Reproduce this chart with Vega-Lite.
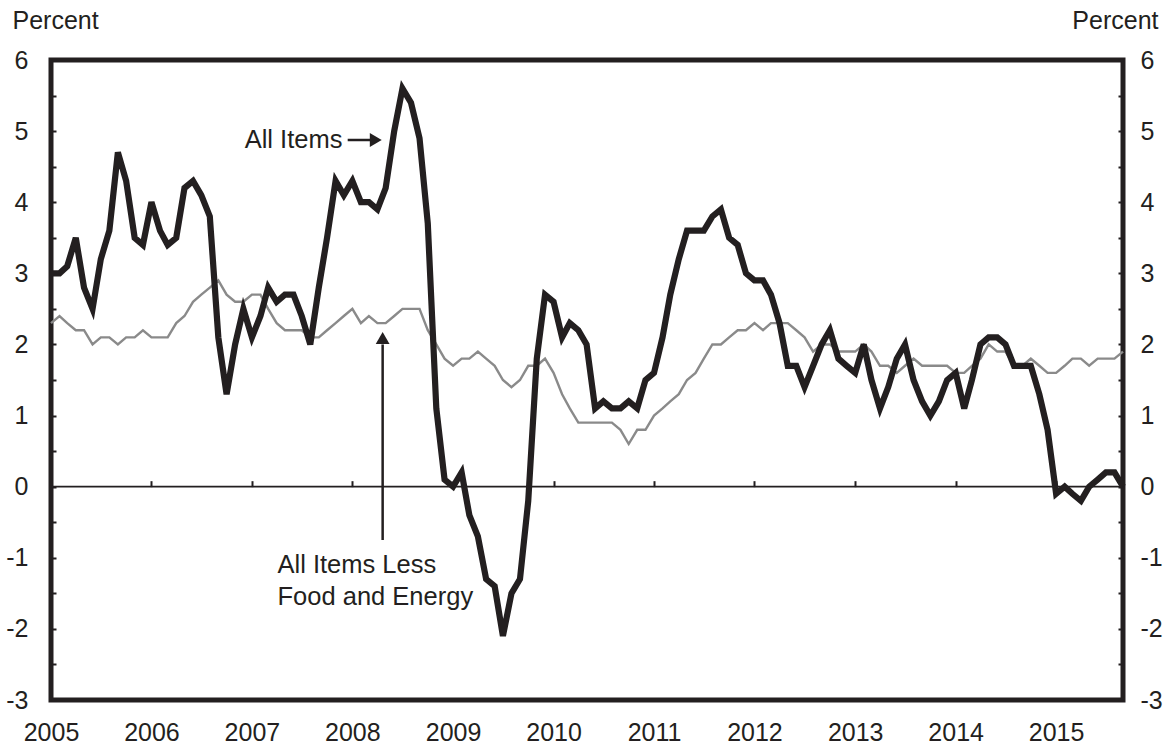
{
  "$schema": "https://vega.github.io/schema/vega-lite/v6.json",
  "width": 1072,
  "height": 640,
  "autosize": {"type": "none"},
  "padding": {"left": 51, "top": 60, "right": 49, "bottom": 48},
  "config": {
    "view": {"stroke": "#231f20", "strokeWidth": 5},
    "font": "Liberation Sans",
    "axis": {
      "labelFont": "Liberation Sans", "labelFontSize": 25, "labelColor": "#231f20",
      "titleFont": "Liberation Sans", "titleFontSize": 25, "titleFontWeight": "normal", "titleColor": "#231f20",
      "grid": false, "domain": false, "tickColor": "#231f20", "tickWidth": 2, "labelFlush": false, "labelOverlap": false
    }
  },
  "datasets": {
    "cpi": [
      {"d":"2005-01","a":3.0,"c":2.3},{"d":"2005-02","a":3.0,"c":2.4},{"d":"2005-03","a":3.1,"c":2.3},{"d":"2005-04","a":3.5,"c":2.2},{"d":"2005-05","a":2.8,"c":2.2},{"d":"2005-06","a":2.5,"c":2.0},{"d":"2005-07","a":3.2,"c":2.1},{"d":"2005-08","a":3.6,"c":2.1},{"d":"2005-09","a":4.7,"c":2.0},{"d":"2005-10","a":4.3,"c":2.1},{"d":"2005-11","a":3.5,"c":2.1},{"d":"2005-12","a":3.4,"c":2.2},
      {"d":"2006-01","a":4.0,"c":2.1},{"d":"2006-02","a":3.6,"c":2.1},{"d":"2006-03","a":3.4,"c":2.1},{"d":"2006-04","a":3.5,"c":2.3},{"d":"2006-05","a":4.2,"c":2.4},{"d":"2006-06","a":4.3,"c":2.6},{"d":"2006-07","a":4.1,"c":2.7},{"d":"2006-08","a":3.8,"c":2.8},{"d":"2006-09","a":2.1,"c":2.9},{"d":"2006-10","a":1.3,"c":2.7},{"d":"2006-11","a":2.0,"c":2.6},{"d":"2006-12","a":2.5,"c":2.6},
      {"d":"2007-01","a":2.1,"c":2.7},{"d":"2007-02","a":2.4,"c":2.7},{"d":"2007-03","a":2.8,"c":2.5},{"d":"2007-04","a":2.6,"c":2.3},{"d":"2007-05","a":2.7,"c":2.2},{"d":"2007-06","a":2.7,"c":2.2},{"d":"2007-07","a":2.4,"c":2.2},{"d":"2007-08","a":2.0,"c":2.1},{"d":"2007-09","a":2.8,"c":2.1},{"d":"2007-10","a":3.5,"c":2.2},{"d":"2007-11","a":4.3,"c":2.3},{"d":"2007-12","a":4.1,"c":2.4},
      {"d":"2008-01","a":4.3,"c":2.5},{"d":"2008-02","a":4.0,"c":2.3},{"d":"2008-03","a":4.0,"c":2.4},{"d":"2008-04","a":3.9,"c":2.3},{"d":"2008-05","a":4.2,"c":2.3},{"d":"2008-06","a":5.0,"c":2.4},{"d":"2008-07","a":5.6,"c":2.5},{"d":"2008-08","a":5.4,"c":2.5},{"d":"2008-09","a":4.9,"c":2.5},{"d":"2008-10","a":3.7,"c":2.2},{"d":"2008-11","a":1.1,"c":2.0},{"d":"2008-12","a":0.1,"c":1.8},
      {"d":"2009-01","a":0.0,"c":1.7},{"d":"2009-02","a":0.2,"c":1.8},{"d":"2009-03","a":-0.4,"c":1.8},{"d":"2009-04","a":-0.7,"c":1.9},{"d":"2009-05","a":-1.3,"c":1.8},{"d":"2009-06","a":-1.4,"c":1.7},{"d":"2009-07","a":-2.1,"c":1.5},{"d":"2009-08","a":-1.5,"c":1.4},{"d":"2009-09","a":-1.3,"c":1.5},{"d":"2009-10","a":-0.2,"c":1.7},{"d":"2009-11","a":1.8,"c":1.7},{"d":"2009-12","a":2.7,"c":1.8},
      {"d":"2010-01","a":2.6,"c":1.6},{"d":"2010-02","a":2.1,"c":1.3},{"d":"2010-03","a":2.3,"c":1.1},{"d":"2010-04","a":2.2,"c":0.9},{"d":"2010-05","a":2.0,"c":0.9},{"d":"2010-06","a":1.1,"c":0.9},{"d":"2010-07","a":1.2,"c":0.9},{"d":"2010-08","a":1.1,"c":0.9},{"d":"2010-09","a":1.1,"c":0.8},{"d":"2010-10","a":1.2,"c":0.6},{"d":"2010-11","a":1.1,"c":0.8},{"d":"2010-12","a":1.5,"c":0.8},
      {"d":"2011-01","a":1.6,"c":1.0},{"d":"2011-02","a":2.1,"c":1.1},{"d":"2011-03","a":2.7,"c":1.2},{"d":"2011-04","a":3.2,"c":1.3},{"d":"2011-05","a":3.6,"c":1.5},{"d":"2011-06","a":3.6,"c":1.6},{"d":"2011-07","a":3.6,"c":1.8},{"d":"2011-08","a":3.8,"c":2.0},{"d":"2011-09","a":3.9,"c":2.0},{"d":"2011-10","a":3.5,"c":2.1},{"d":"2011-11","a":3.4,"c":2.2},{"d":"2011-12","a":3.0,"c":2.2},
      {"d":"2012-01","a":2.9,"c":2.3},{"d":"2012-02","a":2.9,"c":2.2},{"d":"2012-03","a":2.7,"c":2.3},{"d":"2012-04","a":2.3,"c":2.3},{"d":"2012-05","a":1.7,"c":2.3},{"d":"2012-06","a":1.7,"c":2.2},{"d":"2012-07","a":1.4,"c":2.1},{"d":"2012-08","a":1.7,"c":1.9},{"d":"2012-09","a":2.0,"c":2.0},{"d":"2012-10","a":2.2,"c":2.0},{"d":"2012-11","a":1.8,"c":1.9},{"d":"2012-12","a":1.7,"c":1.9},
      {"d":"2013-01","a":1.6,"c":1.9},{"d":"2013-02","a":2.0,"c":2.0},{"d":"2013-03","a":1.5,"c":1.9},{"d":"2013-04","a":1.1,"c":1.7},{"d":"2013-05","a":1.4,"c":1.7},{"d":"2013-06","a":1.8,"c":1.6},{"d":"2013-07","a":2.0,"c":1.7},{"d":"2013-08","a":1.5,"c":1.8},{"d":"2013-09","a":1.2,"c":1.7},{"d":"2013-10","a":1.0,"c":1.7},{"d":"2013-11","a":1.2,"c":1.7},{"d":"2013-12","a":1.5,"c":1.7},
      {"d":"2014-01","a":1.6,"c":1.6},{"d":"2014-02","a":1.1,"c":1.6},{"d":"2014-03","a":1.5,"c":1.7},{"d":"2014-04","a":2.0,"c":1.8},{"d":"2014-05","a":2.1,"c":2.0},{"d":"2014-06","a":2.1,"c":1.9},{"d":"2014-07","a":2.0,"c":1.9},{"d":"2014-08","a":1.7,"c":1.7},{"d":"2014-09","a":1.7,"c":1.7},{"d":"2014-10","a":1.7,"c":1.8},{"d":"2014-11","a":1.3,"c":1.7},{"d":"2014-12","a":0.8,"c":1.6},
      {"d":"2015-01","a":-0.1,"c":1.6},{"d":"2015-02","a":0.0,"c":1.7},{"d":"2015-03","a":-0.1,"c":1.8},{"d":"2015-04","a":-0.2,"c":1.8},{"d":"2015-05","a":0.0,"c":1.7},{"d":"2015-06","a":0.1,"c":1.8},{"d":"2015-07","a":0.2,"c":1.8},{"d":"2015-08","a":0.2,"c":1.8},{"d":"2015-09","a":0.0,"c":1.9}
    ],
    "labels": [
      {"key":"all","d":"2007-11-26","y":4.875,"t":"All Items"},
      {"key":"core1","d":"2007-04-04","y":-1.10,"t":"All Items Less"},
      {"key":"core2","d":"2007-04-04","y":-1.55,"t":"Food and Energy"}
    ],
    "arrows": [
      {"key":"all","d":"2007-12-15","d2":"2008-03-24","y":4.875,"y2":4.875},
      {"key":"core","d":"2008-04-20","d2":"2008-04-20","y":-0.75,"y2":2.0}
    ],
    "heads": [
      {"key":"all","d":"2008-03-26","y":4.875},
      {"key":"core","d":"2008-04-20","y":2.09}
    ]
  },
  "data": {"name": "cpi"},
  "layer": [
    {
      "data": {"values": [{"z": 0}]},
      "mark": {"type": "rule", "color": "#231f20", "strokeWidth": 1.6},
      "encoding": {"y": {"field": "z", "type": "quantitative", "axis": null, "scale": {"domain": [-3, 6], "nice": false, "zero": false}}}
    },
    {
      "mark": {"type": "line", "color": "#8a8a8a", "strokeWidth": 2.4},
      "encoding": {
        "x": {"field": "d", "type": "temporal", "scale": {"type": "utc", "domain": ["2005-01-01", "2015-09-01"], "nice": false},
          "axis": {"orient": "bottom", "ticks": false, "labelPadding": 20, "title": null, "format": "%Y", "formatType": "utc",
            "values": [{"year":2005,"utc":true},{"year":2006,"utc":true},{"year":2007,"utc":true},{"year":2008,"utc":true},{"year":2009,"utc":true},{"year":2010,"utc":true},{"year":2011,"utc":true},{"year":2012,"utc":true},{"year":2013,"utc":true},{"year":2014,"utc":true},{"year":2015,"utc":true}]}},
        "y": {"field": "c", "type": "quantitative", "scale": {"domain": [-3, 6], "nice": false, "zero": false},
          "axis": {"orient": "left", "values": [-3,-2.5,-2,-1.5,-1,-0.5,0,0.5,1,1.5,2,2.5,3,3.5,4,4.5,5,5.5,6],
            "labelExpr": "datum.value % 1 == 0 ? '' + datum.value : ''", "tickSize": -5, "labelPadding": 28,
            "title": "Percent", "titleAngle": 0, "titleAlign": "left", "titleBaseline": "alphabetic", "titleX": -39, "titleY": -32}}
      }
    },
    {
      "mark": {"type": "line", "color": "#231f20", "strokeWidth": 6.2, "strokeJoin": "miter"},
      "encoding": {
        "x": {"field": "d", "type": "temporal",
          "axis": {"orient": "top", "offset": -426.67, "labels": false, "tickSize": 6, "title": null,
            "values": [{"year":2006,"utc":true},{"year":2007,"utc":true},{"year":2008,"utc":true},{"year":2009,"utc":true},{"year":2010,"utc":true},{"year":2011,"utc":true},{"year":2012,"utc":true},{"year":2013,"utc":true},{"year":2014,"utc":true},{"year":2015,"utc":true}]}},
        "y": {"field": "a", "type": "quantitative",
          "axis": {"orient": "right", "values": [-3,-2.5,-2,-1.5,-1,-0.5,0,0.5,1,1.5,2,2.5,3,3.5,4,4.5,5,5.5,6],
            "labelExpr": "datum.value % 1 == 0 ? '' + datum.value : ''", "tickSize": -5, "labelPadding": 22,
            "title": "Percent", "titleAngle": 0, "titleAlign": "right", "titleBaseline": "alphabetic", "titleX": 35, "titleY": -32}}
      }
    },
    {
      "data": {"name": "arrows"},
      "mark": {"type": "rule", "color": "#231f20", "strokeWidth": 2.5},
      "encoding": {
        "x": {"field": "d", "type": "temporal", "axis": null},
        "x2": {"field": "d2"},
        "y": {"field": "y", "type": "quantitative", "axis": null},
        "y2": {"field": "y2"}
      }
    },
    {
      "data": {"name": "heads"},
      "transform": [{"filter": "datum.key == 'all'"}],
      "mark": {"type": "point", "shape": "triangle-right", "filled": true, "color": "#231f20", "size": 190, "opacity": 1},
      "encoding": {
        "x": {"field": "d", "type": "temporal", "axis": null},
        "y": {"field": "y", "type": "quantitative", "axis": null}
      }
    },
    {
      "data": {"name": "heads"},
      "transform": [{"filter": "datum.key == 'core'"}],
      "mark": {"type": "point", "shape": "triangle-up", "filled": true, "color": "#231f20", "size": 190, "opacity": 1},
      "encoding": {
        "x": {"field": "d", "type": "temporal", "axis": null},
        "y": {"field": "y", "type": "quantitative", "axis": null}
      }
    },
    {
      "data": {"name": "labels"},
      "transform": [{"filter": "datum.key == 'all'"}],
      "mark": {"type": "text", "align": "right", "baseline": "middle", "font": "Liberation Sans", "fontSize": 25.5, "color": "#231f20"},
      "encoding": {
        "x": {"field": "d", "type": "temporal", "axis": null},
        "y": {"field": "y", "type": "quantitative", "axis": null},
        "text": {"field": "t"}
      }
    },
    {
      "data": {"name": "labels"},
      "transform": [{"filter": "datum.key != 'all'"}],
      "mark": {"type": "text", "align": "left", "baseline": "middle", "font": "Liberation Sans", "fontSize": 25.5, "color": "#231f20"},
      "encoding": {
        "x": {"field": "d", "type": "temporal", "axis": null},
        "y": {"field": "y", "type": "quantitative", "axis": null},
        "text": {"field": "t"}
      }
    }
  ],
  "resolve": {"axis": {"x": "independent", "y": "independent"}}
}
